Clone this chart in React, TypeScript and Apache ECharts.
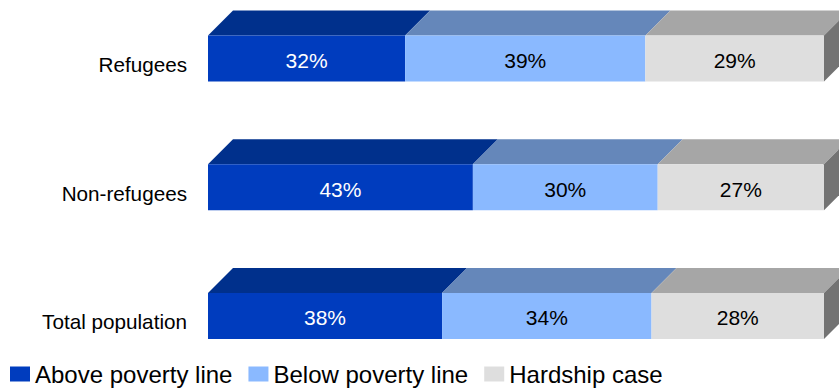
import React, { useEffect, useRef } from "react";
import * as echarts from "echarts";

const categories = ["Refugees", "Non-refugees", "Total population"];
const seriesNames = ["Above poverty line", "Below poverty line", "Hardship case"];
const aboveValues = [32, 43, 38];
const belowValues = [39, 30, 34];
const hardshipValues = [29, 27, 28];

const frontColors = ["#003CBE", "#8AB9FF", "#DEDEDE"];
const topColors = ["#00308C", "#6587BA", "#A6A6A6"];
const sideColor = "#737373";
const labelColors = ["#FFFFFF", "#000000", "#000000"];
const FONT = '"Liberation Sans", Arial, sans-serif';

export default function App() {
  const ref = useRef<HTMLDivElement>(null);
  useEffect(() => {
    if (!ref.current) return;
    const chart = echarts.init(ref.current, undefined, { renderer: "svg" });
    const all = [aboveValues, belowValues, hardshipValues];
    const series = all.map((vals, si) => {
      const data = vals.map((v, ci) => {
        let start = 0;
        for (let k = 0; k < si; k++) start += all[k][ci];
        return [start, start + v, ci];
      });
      return {
        type: "custom",
        name: seriesNames[si],
        itemStyle: { color: frontColors[si] },
        encode: { x: [0, 1], y: 2 },
        data,
        renderItem: (params: any, api: any) => {
          const s = api.value(0);
          const e = api.value(1);
          const c = api.value(2);
          const p0 = api.coord([s, c]);
          const p1 = api.coord([e, c]);
          const x0 = p0[0];
          const x1 = p1[0];
          const yc = p0[1] - 6;
          const h = 46;
          const d = 25;
          const yt = yc - h / 2;
          const yb = yc + h / 2;
          const children: any[] = [
            {
              type: "polygon",
              shape: { points: [[x0, yt], [x1, yt], [x1 + d, yt - d], [x0 + d, yt - d]] },
              style: { fill: topColors[si] },
            },
            {
              type: "rect",
              shape: { x: x0, y: yt, width: x1 - x0, height: h },
              style: { fill: frontColors[si] },
            },
          ];
          if (si === all.length - 1) {
            children.push({
              type: "polygon",
              shape: { points: [[x1, yt], [x1 + d, yt - d], [x1 + d, yb - d], [x1, yb]] },
              style: { fill: sideColor },
            });
          }
          children.push({
            type: "text",
            style: {
              x: (x0 + x1) / 2,
              y: yc + 2,
              text: Math.round(e - s) + "%",
              fill: labelColors[si],
              font: `21px ${FONT}`,
              align: "center",
              verticalAlign: "middle",
            },
          });
          return { type: "group", children };
        },
      };
    });
    chart.setOption({
      animation: false,
      grid: { left: 208, right: 15, top: -1.65, height: 388 },
      xAxis: { type: "value", min: 0, max: 100, show: false },
      yAxis: {
        type: "category",
        data: categories,
        inverse: true,
        axisLine: { show: false },
        axisTick: { show: false },
        splitLine: { show: false },
        axisLabel: {
          margin: 21,
          fontSize: 20.7,
          fontFamily: FONT,
          color: "#000",
        },
      },
      legend: {
        data: seriesNames.map((n) => ({ name: n, icon: "rect" })),
        left: 10,
        top: 362,
        padding: 0,
        itemWidth: 20,
        itemHeight: 15,
        itemGap: 16,
        selectedMode: false,
        textStyle: { fontSize: 24, fontFamily: FONT, color: "#000" },
      },
      series,
    });
    return () => chart.dispose();
  }, []);
  return (
    <div
      ref={ref}
      style={{ position: "absolute", left: 0, top: 0, width: 839, height: 390 }}
    />
  );
}
